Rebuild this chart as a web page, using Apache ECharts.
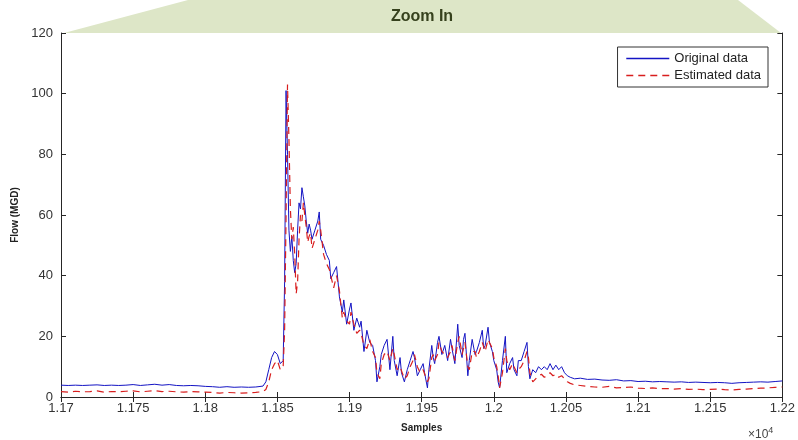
<!DOCTYPE html>
<html>
<head>
<meta charset="utf-8">
<script src="https://cdn.jsdelivr.net/npm/echarts@6/dist/echarts.min.js"></script>
<style>
html,body{margin:0;padding:0;background:#fff;}
#chart{width:798px;height:440px;}
</style>
</head>
<body>
<div id="chart"></div>
<script>
const seriesNames = ['Original data', 'Estimated data'];
const yTicks = [0, 20, 40, 60, 80, 100, 120];
const xTickLabels = ['1.17','1.175','1.18','1.185','1.19','1.195','1.2','1.205','1.21','1.215','1.22'];

const samples = [
  11700,11705,11710,11715,11720,11725,11730,11735,11740,11745,
  11750,11755,11760,11765,11770,11775,11780,11785,11790,11795,
  11800,11805,11810,11815,11820,11825,11830,11835,11840,
  11842,11844,11846,11848,11850,11852,11854,11855,11856,11857,
  11858,11859,11860,11861,11862,11863,11864,11865,11866,11867,
  11868,11869,11870,11871,11872,11873,11874,11876,11878,11879,
  11880,11882,11884,11886,11887,11889,11891,11893,11895,11896,
  11898,11900,11901,11903,11905,11907,11908,11910,11912,11914,
  11916,11918,11919,11921,11922,11924,11926,11928,11930,11931,
  11933,11935,11936,11938,11940,11942,11944,11945,11947,11949,
  11951,11952,11954,11955,11957,11958,11959,11961,11962,11964,
  11966,11968,11970,11971,11973,11975,11976,11978,11979,11980,
  11982,11983,11985,11987,11988,11990,11992,11993,11994,11996,
  11997,11999,12000,12002,12003,12004,12006,12008,12009,12011,
  12013,12014,12016,12017,12019,12021,12023,12024,12025,12027,
  12029,12031,12033,12035,12037,12039,12041,12043,12045,12047,
  12049,12051,12053,12056,
  12060,12065,12070,12075,12080,12085,12090,12095,12100,12105,
  12110,12115,12120,12125,12130,12135,12140,12145,12150,12155,
  12160,12165,12170,12175,12180,12185,12190,12195,12200
];

const originalData = [
  3.9,3.8,3.9,3.8,3.9,4.0,3.8,3.9,3.8,3.9,
  4.1,3.8,4.0,4.2,3.9,4.1,3.8,3.7,3.8,3.7,
  3.5,3.4,3.2,3.4,3.2,3.3,3.2,3.3,3.6,
  5,9,13,15,14,11,12,38,101,80,
  55,48,53,45,41,44,55,64,62,69,
  66,63,58,54,57,55,52,55,58,61,
  52,50,47,45,39,41,43,33,28,32,
  24,29,31,22,26,23,25,15,22,18,
  17,12,5,10,14,17,19,9,20,12,
  7,13,8,5,9,12,15,13,7,9,
  11,8,3,9,17,13,11,18,20,14,
  17,12,19,16,11,24,17,13,19,21,
  7,12,19,14,15,18,22,16,17,23,
  18,15,12,9,5,3,12,20,8,11,
  13,9,7,12,12,15,18,10,6,9,
  8,10,9,10,9,11,9,10.5,9,10,
  8,7,6.5,6,
  6.2,5.8,5.9,5.6,5.5,5.7,5.3,5.4,5.1,5.2,
  5.0,5.1,5.0,4.9,5.0,4.8,4.9,4.8,4.7,4.8,
  4.7,4.5,4.7,4.8,4.9,5.0,4.9,5.1,5.3
];

const estimatedData = [
  1.8,1.6,1.9,1.7,1.8,2.0,1.6,1.8,1.7,1.9,
  2.0,1.7,1.9,2.1,1.8,1.9,1.7,1.6,1.8,1.7,
  1.6,1.5,1.3,1.5,1.4,1.3,1.4,1.5,1.8,
  2.5,5,9,11,12,9,10,22,60,103,
  85,62,52,56,47,34,38,52,60,58,
  64,60,56,51,53,54,49,52,55,58,
  55,47,44,42,40,36,40,35,26,28,
  25,24,28,24,21,22,21,17,16,19,
  15,13,8,6,11,14,15,12,16,14,
  9,10,10,6,7,10,12,14,10,8,
  9,9,5,6,13,14,12,14,18,15,
  14,13,15,17,12,18,20,14,16,18,
  10,9,15,15,13,15,18,18,15,19,
  19,16,13,10,7,3,8,16,12,9,
  11,10,8,9,10,12,15,13,8,5,
  6,7,7.5,6.5,7,8,7,7.5,6.5,7,
  6,5,4.5,4,
  3.8,3.5,3.3,3.2,3.5,3.0,3.1,3.3,2.9,2.8,
  3.0,2.7,2.8,2.6,2.8,2.5,2.6,2.4,2.5,2.6,
  2.4,2.3,2.5,2.6,2.8,2.9,3.0,3.2,3.3
];

const n = Math.min(samples.length, originalData.length, estimatedData.length);
const pair = (vals) => samples.slice(0, n).map((s, i) => [s, vals[i]]);

const FONT = 'Liberation Sans';
const BLUE = '#1414c4', RED = '#d81e1e';
const xMin = 11700, xMax = 12200, xStep = 50;

const chart = echarts.init(document.getElementById('chart'), null, {renderer: 'canvas'});

const axisLineStyle = {lineStyle: {color: '#262626', width: 1}};
const tickInside = {inside: true, length: 5, lineStyle: {color: '#262626'}};

chart.setOption({
  backgroundColor: '#ffffff',
  animation: false,
  grid: {left: 61, right: 15, top: 33, bottom: 43, containLabel: false},
  graphic: [
    {
      type: 'polygon', z: -1, silent: true,
      shape: {points: [[64, 33], [188, 0], [738, 0], [781, 33]]},
      style: {fill: '#dde6c7'}
    },
    {
      type: 'text', silent: true,
      style: {x: 422, y: 17, text: 'Zoom In', fill: '#36411d', font: 'bold 16px "Liberation Sans"', textAlign: 'center', textVerticalAlign: 'middle'}
    },
    {
      type: 'text', silent: true,
      style: {
        x: 748, y: 426,
        text: '×10{sup|4}',
        rich: {sup: {fontSize: 9, verticalAlign: 'top', padding: [0,0,8,0], fill: '#444', fontFamily: FONT}},
        fill: '#444', fontSize: 12, fontFamily: FONT
      }
    }
  ],
  legend: {
    data: [
      {name: seriesNames[0], lineStyle: {color: BLUE, width: 1.3, type: 'solid'}},
      {name: seriesNames[1], lineStyle: {color: RED, width: 1.5, type: [7, 5]}}
    ],
    orient: 'vertical',
    right: 30, top: 47,
    itemWidth: 43, itemHeight: 12, itemGap: 4,
    padding: [5, 7, 5, 8],
    borderColor: '#333', borderWidth: 1,
    backgroundColor: '#fff',
    itemStyle: {opacity: 0},
    textStyle: {fontFamily: FONT, fontSize: 13, color: '#222'}
  },
  xAxis: [
    {
      type: 'value', min: xMin, max: xMax, interval: xStep,
      name: 'Samples', nameLocation: 'middle', nameGap: 26,
      nameTextStyle: {fontFamily: FONT, fontSize: 10, fontWeight: 'bold', color: '#222'},
      axisLine: axisLineStyle, axisTick: tickInside,
      splitLine: {show: false},
      axisLabel: {
        margin: 5, fontFamily: FONT, fontSize: 13, color: '#333',
        formatter: (v) => xTickLabels[Math.round((v - xMin) / xStep)] || ''
      }
    },
    {
      type: 'value', position: 'top', min: xMin, max: xMax, interval: xStep,
      axisLine: axisLineStyle, axisTick: tickInside,
      splitLine: {show: false}, axisLabel: {show: false}
    }
  ],
  yAxis: [
    {
      type: 'value', min: yTicks[0], max: yTicks[yTicks.length - 1], interval: yTicks[1] - yTicks[0],
      name: 'Flow (MGD)', nameLocation: 'middle', nameGap: 35, nameRotate: 90,
      nameTextStyle: {fontFamily: FONT, fontSize: 10, fontWeight: 'bold', color: '#222'},
      axisLine: {show: true, lineStyle: {color: '#262626'}}, axisTick: tickInside,
      splitLine: {show: false},
      axisLabel: {margin: 8, fontFamily: FONT, fontSize: 13, color: '#333'}
    },
    {
      type: 'value', position: 'right', min: 0, max: 120, interval: 20,
      axisLine: {show: true, lineStyle: {color: '#262626'}}, axisTick: tickInside,
      splitLine: {show: false}, axisLabel: {show: false}
    }
  ],
  series: [
    {
      name: seriesNames[0], type: 'line', data: pair(originalData),
      showSymbol: false, symbol: 'none',
      lineStyle: {color: BLUE, width: 1},
      itemStyle: {color: BLUE}
    },
    {
      name: seriesNames[1], type: 'line', data: pair(estimatedData),
      showSymbol: false, symbol: 'none',
      lineStyle: {color: RED, width: 1.2, type: [7, 5]},
      itemStyle: {color: RED}
    }
  ]
});
</script>
</body>
</html>
